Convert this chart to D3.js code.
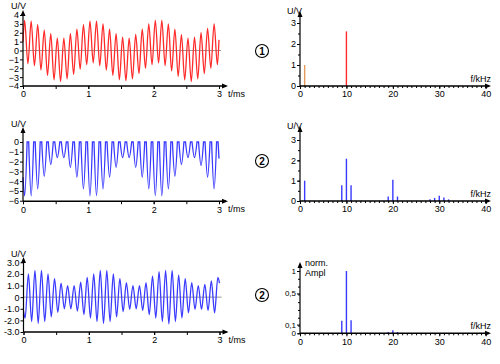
<!DOCTYPE html>
<html><head><meta charset="utf-8">
<script src="https://cdn.jsdelivr.net/npm/d3@7"></script>
<style>
body{margin:0;background:#fff}
svg{display:block}
text{font-family:"Liberation Sans",Arial,sans-serif;font-size:9px;fill:#000}
</style>
</head><body>
<svg id="c" width="500" height="364"></svg>
<script>
// ---- data ----
// time of the 10 kHz extrema (ms)
const tA = [0.025,0.125,0.225,0.325,0.425,0.525,0.625,0.725,0.825,0.925,1.025,1.125,1.225,1.325,1.425,1.525,1.625,1.725,1.825,1.925,2.025,2.125,2.225,2.325,2.425,2.525,2.625,2.725,2.825,2.925];
const tB = [0.075,0.175,0.275,0.375,0.475,0.575,0.675,0.775,0.875,0.975,1.075,1.175,1.275,1.375,1.475,1.575,1.675,1.775,1.875,1.975,2.075,2.175,2.275,2.375,2.475,2.575,2.675,2.775,2.875,2.975];
// signal 1 (red)
const peak1   = [3.4,3.3,2.9,2.3,1.9,1.4,1.4,1.9,2.4,2.9, 3.3,3.3,3.0,2.4,1.9,1.5,1.4,1.8,2.4,3.0, 3.4,3.4,3.0,2.4,1.8,1.4,1.5,2.0,2.5,3.0];
const trough1 = [-1.5,-1.7,-2.2,-2.8,-3.3,-3.5,-3.2,-2.7,-2.1,-1.6, -1.4,-1.7,-2.2,-2.8,-3.3,-3.4,-3.2,-2.6,-2.0,-1.6, -1.4,-1.7,-2.3,-2.9,-3.3,-3.5,-3.2,-2.6,-2.0,-1.6];
const start1 = [0, 1.0], end1 = [3.0, 1.2];
// signal 2 (blue, dips)
const dip2 = [-5.5,-5.5,-4.8,-3.5,-2.3,-1.6,-1.6,-2.6,-3.6,-4.8, -5.5,-5.5,-4.8,-3.6,-2.6,-1.6,-1.6,-2.6,-3.6,-4.8, -5.5,-5.5,-4.8,-3.5,-2.3,-1.6,-1.6,-2.4,-3.6,-4.8];
const start2 = [0, -3.6], end2 = [3.0, -1.7];
// signal 3 (blue)
const trough3 = [-1.8,-2.1,-2.25,-2.1,-1.7,-1.3,-1.0,-1.0,-1.2,-1.5, -1.8,-2.1,-2.25,-2.1,-1.7,-1.25,-1.05,-1.0,-1.15,-1.5, -1.8,-2.1,-2.3,-2.1,-1.8,-1.35,-1.05,-1.05,-1.15,-1.35];
const peak3   = [2.0,2.3,2.3,2.0,1.6,1.2,1.0,1.0,1.3,1.7, 2.0,2.3,2.3,2.0,1.6,1.25,1.0,1.0,1.25,1.8, 2.2,2.3,2.3,1.9,1.6,1.25,1.0,1.1,1.4,1.7];
const start3 = [0, -1.2], end3 = [3.0, 1.2];
// spectra
const freqs1 = [1,10];
const amps1  = [1.0,2.6];
const freqs2 = [1,9,10,11,19,20,21,28,29,30,31,32];
const amps2  = [1.0,0.78,2.08,0.78,0.22,1.05,0.22,0.08,0.15,0.26,0.17,0.08];
const freqs3 = [9,10,11,19,20,21];
const amps3  = [0.2,1.0,0.21,0.02,0.05,0.02];
// tick labels
const timeTicks = [0,1,2,3];
const freqTicks = [0,10,20,30,40];
const yTicks1 = [-4,-3,-2,-1,0,1,2,3,4];
const yTicks2 = [-6,-5,-4,-3,-2,-1,0];
const yTicks3 = [-3,-2,-1,0,1,2,3];
const specTicks = [0,1,2,3];
const spec3TickPos = [0,0.14,0.64,1];
const spec3TickLabels = ["0","0,1","0,5","1"];

// ---- drawing ----
const svg = d3.select("#c");
const RED = "#ff2b2b", BLUE = "#3a3aff";

function arrowAxes(g, x0, yBase, yTop, xEnd) {
  g.append("line").attr("x1",x0).attr("x2",x0).attr("y1",yBase).attr("y2",yTop+2)
    .attr("stroke","#000").attr("stroke-width",1.2);
  g.append("path").attr("d",`M${x0},${yTop}L${x0-2.5},${yTop+6}L${x0+2.5},${yTop+6}Z`).attr("fill","#000");
  g.append("line").attr("x1",x0).attr("x2",xEnd-2).attr("y1",yBase).attr("y2",yBase)
    .attr("stroke","#000").attr("stroke-width",1.5);
  g.append("path").attr("d",`M${xEnd},${yBase}L${xEnd-6},${yBase-2.5}L${xEnd-6},${yBase+2.5}Z`).attr("fill","#000");
}
function cleanAxis(s){ s.select(".domain").remove(); s.attr("font-family",null).attr("font-size",null); s.selectAll("line").attr("stroke","#000"); }

function timePanel(cfg) {
  const g = svg.append("g");
  const x = d3.scaleLinear([0,3],[cfg.x0, cfg.x3]);
  const y = d3.scaleLinear(cfg.ydom, cfg.yrange);
  const yBase = y(cfg.ydom[0]);
  g.append("g").attr("transform",`translate(0,${yBase})`)
    .call(d3.axisBottom(x).tickValues(d3.range(0,3.01,0.5)).tickFormat("").tickSize(3)).call(cleanAxis);
  g.append("g").attr("transform",`translate(0,${yBase})`)
    .call(d3.axisBottom(x).tickValues(timeTicks).tickFormat(d3.format("d")).tickSize(3).tickPadding(2)).call(cleanAxis);
  g.append("g").attr("transform",`translate(${cfg.x0},0)`)
    .call(d3.axisLeft(y).tickValues(cfg.yticks).tickFormat(cfg.fmt).tickSize(3).tickPadding(1)).call(cleanAxis);
  if (cfg.zero) g.append("line").attr("x1",cfg.x0).attr("x2",cfg.x3+2).attr("y1",y(0)).attr("y2",y(0))
      .attr("stroke","#9a9a9a").attr("stroke-width",1);
  g.append("path").attr("d",cfg.path(x,y)).attr("fill","none").attr("stroke",cfg.color).attr("stroke-width",1.3);
  arrowAxes(g, cfg.x0, yBase, cfg.yTop, cfg.x3+9);
  g.append("text").attr("x",cfg.x3+9).attr("y",yBase+11).text("t/ms");
  g.append("text").attr("x",11).attr("y",cfg.uvY).text("U/V");
}

function alternating(first, firstT, second, secondT, s, e) {
  const pts = [s];
  first.forEach((v,i)=>{ pts.push([firstT[i], v]); pts.push([secondT[i], second[i]]); });
  pts.push(e);
  return pts;
}
const mono = (x,y)=>d3.line().x(d=>x(d[0])).y(d=>y(d[1])).curve(d3.curveMonotoneX);

// panel 1
timePanel({x0:23,x3:219,ydom:[-4,4],yrange:[86,15],yTop:10,yticks:yTicks1,fmt:d3.format("d"),zero:true,
  color:RED,uvY:9,
  path:(x,y)=>mono(x,y)(alternating(peak1,tA,trough1,tB,start1,end1))});

// panel 2: dips
const halfW = 0.038;
timePanel({x0:23,x3:219,ydom:[-6.05,0],yrange:[201.2,142],yTop:127,yticks:yTicks2,fmt:d3.format("d"),zero:false,
  color:BLUE,uvY:127,
  path:(x,y)=>{
    const ln = mono(x,y);
    let parts = [];
    dip2.forEach((v,i)=>{
      const a = i===0 ? start2 : [tA[i]-halfW,0];
      parts.push(ln([a,[tA[i],v],[tA[i]+halfW,0]]));
    });
    parts.push(ln([[3.0-0.014,0],end2]));
    return parts.map((p,i)=> i===0 ? p : "L"+p.slice(1)).join("");
  }});

// panel 3
timePanel({x0:23.5,x3:219.5,ydom:[-3,3],yrange:[332,262.3],yTop:257,yticks:yTicks3,
  fmt:d=>d===0?"0":d.toFixed(1),zero:true,color:BLUE,uvY:257,
  path:(x,y)=>mono(x,y)(alternating(trough3,tA,peak3,tB,start3,end3))});

// spectra
function specPanel(cfg) {
  const g = svg.append("g");
  const x = d3.scaleLinear([0,40],[300,485.7]);
  const y = d3.scaleLinear(cfg.ydom, cfg.yrange);
  const yBase = y(0);
  g.append("g").attr("transform",`translate(0,${yBase})`)
    .call(d3.axisBottom(x).tickValues(d3.range(0,41,1)).tickFormat("").tickSize(2)).call(cleanAxis);
  g.append("g").attr("transform",`translate(0,${yBase})`)
    .call(d3.axisBottom(x).tickValues(freqTicks).tickFormat(d3.format("d")).tickSize(3).tickPadding(2)).call(cleanAxis);
  g.append("g").attr("transform",`translate(300,0)`)
    .call(d3.axisLeft(y).tickValues(cfg.minor).tickFormat("").tickSize(2)).call(cleanAxis);
  const ya = g.append("g").attr("transform",`translate(300,0)`)
    .call(d3.axisLeft(y).tickValues(cfg.ticks).tickFormat((d,i)=>cfg.labels?cfg.labels[i]:d).tickSize(3).tickPadding(1)).call(cleanAxis);
  if (cfg.labels) ya.selectAll("text").style("font-size","8px");
  g.selectAll("line.bar").data(cfg.freqs).join("line").attr("class","bar")
    .attr("x1",d=>x(d)).attr("x2",d=>x(d)).attr("y1",yBase).attr("y2",(d,i)=>y(cfg.amps[i]))
    .attr("stroke",(d,i)=>cfg.colors ? cfg.colors[i] : cfg.color).attr("stroke-width",1.4);
  arrowAxes(g, 300, yBase, cfg.yTop, 491);
  g.append("text").attr("x",491).attr("y",yBase-4).attr("text-anchor","end").text("f/kHz");
  if (cfg.uv) cfg.uv.forEach((t,i)=>g.append("text").attr("x",cfg.uvX).attr("y",cfg.uvY+i*9.5).text(t));
  g.append("circle").attr("cx",262).attr("cy",cfg.cy).attr("r",6.5).attr("fill","none").attr("stroke","#000").attr("stroke-width",1.1);
  g.append("text").attr("x",262).attr("y",cfg.cy+3.5).attr("text-anchor","middle").attr("font-weight","bold").style("font-size","10px").text(cfg.num);
}

specPanel({ydom:[0,3],yrange:[86,23],yTop:11,ticks:specTicks,minor:d3.range(0,3.01,0.5),freqs:freqs1,amps:amps1,
  colors:["#e39a5a",RED],uv:["U/V"],uvX:287,uvY:14,cy:51,num:"1"});
specPanel({ydom:[0,3],yrange:[201,140],yTop:126,ticks:specTicks,minor:d3.range(0,3.01,0.5),freqs:freqs2,amps:amps2,
  color:BLUE,uv:["U/V"],uvX:287,uvY:129,cy:161,num:"2"});
specPanel({ydom:[0,1],yrange:[333.3,271],yTop:262,ticks:spec3TickPos,labels:spec3TickLabels,minor:d3.range(0,1.01,0.125),
  freqs:freqs3,amps:amps3,color:BLUE,uv:["norm.","Ampl"],uvX:305,uvY:266,cy:295,num:"2"});
</script>
</body></html>
